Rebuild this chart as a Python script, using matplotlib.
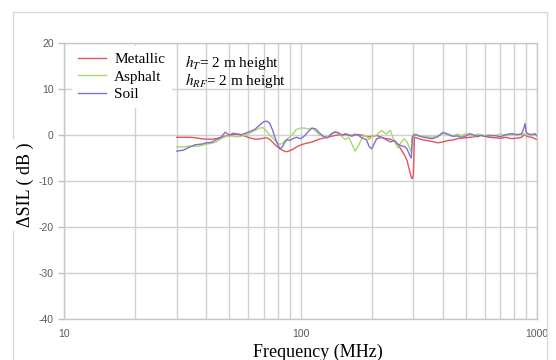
import matplotlib
matplotlib.use("Agg")
import matplotlib.pyplot as plt
from matplotlib.patches import Rectangle
from matplotlib.lines import Line2D
from matplotlib.ticker import FixedLocator, NullFormatter

freq = [30, 32, 34, 36, 38, 40, 42, 44, 46, 48, 50, 52, 54, 56, 58, 60, 62, 64, 66, 68,
        70, 72, 74, 76, 78, 80, 82, 84, 86, 88, 90, 93, 96, 100, 104, 108, 112, 116, 120, 125,
        130, 135, 140, 145, 150, 155, 160, 165, 170, 175, 180, 185, 190, 195, 200, 210, 220, 230, 240, 250,
        258, 265, 275, 282, 290, 294, 297, 300, 303, 310, 320, 340, 360, 380, 400, 420, 440, 460, 480, 500,
        520, 540, 560, 580, 600, 630, 660, 700, 740, 780, 820, 860, 880, 890, 900, 920, 950, 980, 1000]

metallic = [-0.5, -0.5, -0.5, -0.6, -0.8, -0.9, -0.9, -0.8, -0.5, -0.3, -0.1, 0.1, 0.2, 0.1, -0.2, -0.5, -0.7, -0.9, -0.9, -0.8,
            -0.7, -0.6, -0.9, -1.5, -2.1, -2.6, -3.0, -3.3, -3.6, -3.6, -3.4, -3.1, -2.6, -2.2, -1.9, -1.7, -1.5, -1.2, -0.9, -0.7,
            -0.5, -0.3, -0.1, 0.0, 0.0, 0.1, 0.0, -0.1, 0.0, 0.1, 0.0, -0.1, -0.3, -0.4, -0.3, -0.1, -0.5, -0.8, -0.9, -1.4,
            -2.0, -3.0, -4.3, -5.5, -8.0, -9.2, -9.5, -8.8, -0.5, -0.6, -0.9, -1.2, -1.4, -1.7, -1.5, -1.2, -1.1, -0.8, -0.7, -0.6,
            -0.5, -0.4, -0.2, 0.0, -0.3, -0.5, -0.6, -0.7, -0.5, -0.8, -0.7, -0.5, 0.0, 0.0, -0.2, -0.4, -0.5, -0.8, -1.0]

asphalt = [-2.6, -2.6, -2.4, -2.5, -2.3, -2.0, -1.8, -1.5, -0.8, -0.4, -0.2, -0.3, -0.4, -0.3, -0.1, 0.2, 0.6, 1.0, 1.3, 1.6,
           1.5, 0.8, 0.0, -0.5, -1.2, -1.8, -2.0, -1.8, -1.2, -0.8, -0.5, 0.3, 1.2, 1.5, 1.5, 1.3, 1.5, 0.8, 0.0, -0.3,
           -0.5, 0.3, 0.8, 0.5, -0.4, -1.0, -0.5, -2.0, -3.5, -2.5, -1.2, 0.0, -0.2, -1.0, -0.3, 0.0, 1.0, 0.2, 1.0, -1.5,
           -2.8, -1.8, -0.8, -1.5, -3.0, -3.7, -0.4, 0.2, 0.3, 0.1, -0.2, -0.3, -0.5, -0.2, 0.3, 0.1, -0.2, 0.2, -0.1, 0.3,
           0.0, -0.2, 0.2, 0.0, -0.1, 0.1, -0.2, 0.2, -0.1, 0.1, 0.0, 0.2, 0.3, 0.1, 0.0, 0.2, -0.1, 0.1, -0.2]

soil = [-3.5, -3.3, -2.6, -2.1, -2.0, -1.7, -1.6, -1.0, -0.6, 0.6, 0.0, 0.4, 0.2, 0.0, 0.3, 0.6, 0.9, 1.2, 1.8, 2.4,
        2.9, 3.0, 2.6, 1.2, -0.5, -2.0, -3.0, -2.5, -1.5, -1.0, -1.2, -0.8, -0.5, -0.8, -0.2, 0.8, 1.5, 1.3, 0.5, -0.3,
        -0.6, 0.2, 0.6, 0.4, 0.0, 0.3, 0.0, -0.3, 0.2, 0.0, -0.5, -0.8, -1.0, -2.5, -3.0, -0.8, -0.5, -1.0, -1.5, -1.2,
        -2.0, -2.3, -2.5, -3.0, -4.5, -5.0, -0.5, -0.2, 0.0, 0.0, -0.3, -0.6, -0.8, -0.4, 0.6, 0.2, -0.3, -0.2, -0.5, -0.2,
        0.3, 0.0, -0.4, -0.1, -0.3, -0.2, -0.1, -0.4, 0.1, 0.3, 0.1, 0.2, 1.5, 2.5, 0.5, 0.2, 0.1, 0.3, -0.2]

series_names = ["Metallic", "Asphalt", "Soil"]
series_data = [metallic, asphalt, soil]
series_colors = ["#e4555a", "#a9d86a", "#8271cc"]

yticks = [-40, -30, -20, -10, 0, 10, 20]
xticks = [10, 100, 1000]
minor_x = [20, 30, 40, 50, 60, 70, 80, 90, 200, 300, 400, 500, 600, 700, 800, 900]

W, H = 556, 360
fig = plt.figure(figsize=(W / 100, H / 100), dpi=100)
fig.patch.set_facecolor("white")

# outer chart border
fig.add_artist(Rectangle((13 / W, -0.1), (547 - 13) / W, 1.1 - 12 / H,
                         transform=fig.transFigure, fill=False, edgecolor="#d9d9d9", lw=1.0))

ax = fig.add_axes([64 / W, 1 - 319 / H, (537 - 64) / W, (319 - 43) / H])
ax.set_xscale("log")
ax.set_xlim(10, 1000)
ax.set_ylim(-40, 20)

grid_c = "#d0d0d0"
ax.xaxis.set_major_locator(FixedLocator(xticks))
ax.xaxis.set_minor_locator(FixedLocator(minor_x))
ax.xaxis.set_minor_formatter(NullFormatter())
ax.set_xticklabels([str(t) for t in xticks])
ax.set_yticks(yticks)
ax.set_yticklabels([str(t) for t in yticks])
ax.grid(True, which="major", color=grid_c, lw=1.0)
ax.grid(True, which="minor", axis="x", color=grid_c, lw=1.0)
ax.set_axisbelow(True)
for s in ax.spines.values():
    s.set_color("#c8c8c8")
    s.set_linewidth(1.0)
ax.tick_params(axis="both", which="major", colors="#bfbfbf", labelcolor="#595959",
               labelsize=7.5, length=4, width=1)
ax.tick_params(axis="x", which="minor", length=0)
ax.tick_params(axis="x", which="major", length=0, pad=7)
for lab in ax.get_xticklabels() + ax.get_yticklabels():
    lab.set_family("Liberation Sans")

for name, vals, c in zip(series_names, series_data, series_colors):
    ax.plot(freq, vals, color=c, lw=1.0, label=name)

handles = [Line2D([], [], color=c, lw=1.0) for c in series_colors]
leg = ax.legend(handles, series_names, loc="upper left", bbox_to_anchor=(5 / 473, 1.0),
                frameon=True, fancybox=False, framealpha=1.0, edgecolor="white",
                prop={"family": "Liberation Serif", "size": 11}, handlelength=1.8,
                handletextpad=0.55, labelspacing=0.26, borderaxespad=0.2, borderpad=0.4)

plt.rcParams["mathtext.fontset"] = "stix"
ax.text(185 / W, 1 - 62 / H, r"$h_T$= 2 m height", transform=fig.transFigure,
        family="Liberation Serif", fontsize=11, va="center", ha="left", zorder=6)
ax.text(185 / W, 1 - 80 / H, r"$h_{RF}$= 2 m height", transform=fig.transFigure,
        family="Liberation Serif", fontsize=11, va="center", ha="left", zorder=6)

fig.text(318 / W, 1 - 352 / H, "Frequency (MHz)", family="Liberation Serif", fontsize=13,
         ha="center", va="center")
fig.text(25 / W, 1 - 185 / H, "ΔSIL ( dB )", family="Liberation Serif", fontsize=13,
         ha="center", va="center", rotation=90,
         bbox=dict(facecolor="white", edgecolor="none", pad=3))

fig.savefig("out.png", dpi=100, facecolor="white")
